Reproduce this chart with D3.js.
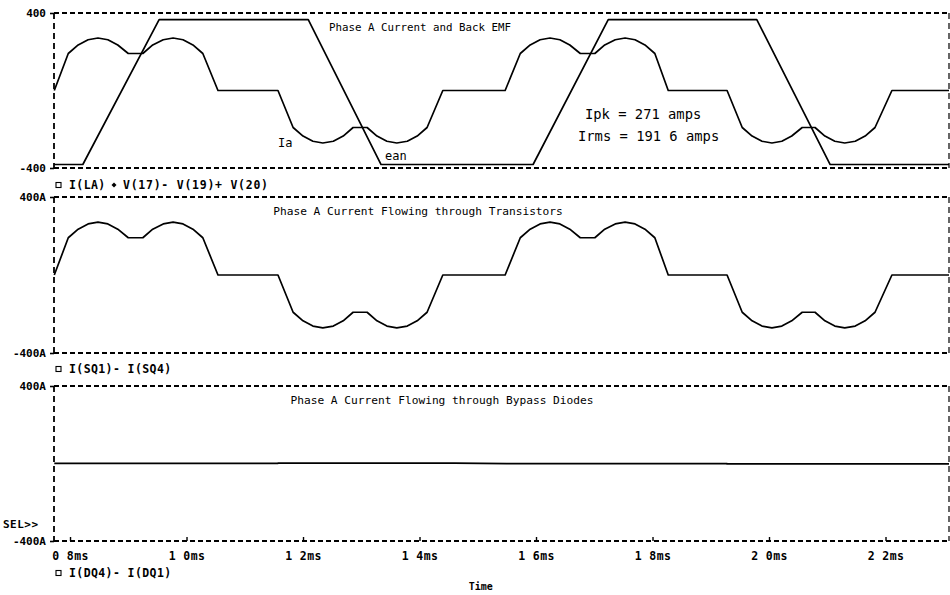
<!DOCTYPE html>
<html>
<head>
<meta charset="utf-8">
<script src="https://cdn.jsdelivr.net/npm/d3@7/dist/d3.min.js"></script>
<style>
  html, body { margin: 0; padding: 0; background: #fff; }
  svg { display: block; }
</style>
</head>
<body>
<svg id="chart" width="950" height="595"></svg>
<script>
// ---- Data -------------------------------------------------------------
// Time axis, milliseconds
const timeDomain = [0.7725, 2.309];
const timeTicks = [0.8, 1.0, 1.2, 1.4, 1.6, 1.8, 2.0, 2.2];
const timeTickLabels = ["0 8ms", "1 0ms", "1 2ms", "1 4ms", "1 6ms", "1 8ms", "2 0ms", "2 2ms"];

// Current / voltage axis limits for every panel
const valueDomain = [-400, 400];
const topTickLabels = ["400", "400A", "400A"];
const bottomTickLabels = ["-400", "-400A", "-400A"];

// Phase A current ia: [time ms, amps]
const phaseCurrent = [
  [0.773, 0], [0.797, 191], [0.814, 235], [0.831, 262], [0.848, 271], [0.865, 262], [0.882, 235], [0.900, 191],
  [0.925, 191], [0.942, 235], [0.960, 262], [0.977, 271], [0.994, 262], [1.011, 235], [1.028, 191], [1.054, 0],
  [1.157, 0], [1.183, -191], [1.200, -235], [1.217, -262], [1.234, -271], [1.252, -262], [1.269, -235], [1.286, -191],
  [1.310, -191], [1.327, -235], [1.344, -262], [1.361, -271], [1.379, -262], [1.396, -235], [1.413, -191], [1.440, 0],
  [1.547, 0], [1.573, 191], [1.590, 235], [1.607, 262], [1.624, 271], [1.641, 262], [1.658, 235], [1.676, 191],
  [1.701, 191], [1.718, 235], [1.736, 262], [1.753, 271], [1.770, 262], [1.787, 235], [1.804, 191], [1.827, 0],
  [1.928, 0], [1.954, -191], [1.971, -235], [1.988, -262], [2.005, -271], [2.022, -262], [2.039, -235], [2.057, -191],
  [2.079, -191], [2.096, -235], [2.113, -262], [2.130, -271], [2.148, -262], [2.165, -235], [2.182, -191], [2.211, 0],
  [2.309, 0]
];

// Phase A back EMF ean: [time ms, volts]
const backEmf = [
  [0.773, -382], [0.822, -382], [0.953, 366], [1.209, 366], [1.334, -382],
  [1.595, -382], [1.724, 366], [1.979, 366], [2.105, -382], [2.309, -382]
];

// The transistors carry the whole phase current
const transistorCurrent = phaseCurrent;

// Bypass diode current, essentially zero: [time ms, amps]
const diodeCurrent = [
  [0.773, 1], [1.157, 1], [1.157, 2], [1.460, 2], [1.550, -1], [1.928, -1], [1.928, -2], [2.309, -2]
];

const panelTitles = [
  "Phase A Current and Back EMF",
  "Phase A Current Flowing through Transistors",
  "Phase A Current Flowing through Bypass Diodes"
];

// ---- Layout -----------------------------------------------------------
const plotLeft = 54, plotRight = 949;
const panels = [
  { top: 13, bottom: 168 },
  { top: 197, bottom: 353 },
  { top: 386, bottom: 541 }
];
const titleCenters = [420, 418, 442];
const titleSizes = [10.8, 11.2, 11.2];

const svg = d3.select("#chart");
const x = d3.scaleLinear().domain(timeDomain).range([plotLeft, plotRight]);

const dash = "5,3";
const frameWidth = 1.8;
const monoFont = '"DejaVu Sans Mono", "Liberation Mono", monospace';

panels.forEach((p, i) => {
  const y = d3.scaleLinear().domain(valueDomain).range([p.bottom, p.top]);
  p.y = y;
  const g = svg.append("g");

  // dashed frame
  const frame = g.append("g")
    .attr("stroke", "#000")
    .attr("stroke-width", frameWidth)
    .attr("stroke-dasharray", dash)
    .attr("fill", "none");
  frame.append("line").attr("x1", plotLeft).attr("x2", plotRight).attr("y1", p.top).attr("y2", p.top);
  frame.append("line").attr("x1", plotLeft).attr("x2", plotRight).attr("y1", p.bottom).attr("y2", p.bottom);
  frame.append("line").attr("x1", plotLeft).attr("x2", plotLeft).attr("y1", p.top).attr("y2", p.bottom)
    .attr("stroke-dasharray", "6,4");
  frame.append("line").attr("x1", plotRight).attr("x2", plotRight).attr("y1", p.top).attr("y2", p.bottom)
    .attr("stroke-dasharray", "6,4").attr("stroke-width", 1.2);

  // y axis end labels
  const yAxis = d3.axisLeft(y)
    .tickValues(valueDomain)
    .tickSize(4)
    .tickPadding(4)
    .tickFormat(d => d > 0 ? topTickLabels[i] : bottomTickLabels[i]);
  const ya = g.append("g").attr("transform", `translate(${plotLeft},0)`).call(yAxis);
  ya.select(".domain").remove();
  ya.selectAll("line").attr("stroke", "#000").attr("stroke-width", 1.6);
  ya.selectAll("text")
    .attr("font-family", monoFont)
    .attr("font-weight", "bold")
    .attr("font-size", 11)
    .attr("fill", "#000");

  // panel title
  g.append("text")
    .attr("x", titleCenters[i])
    .attr("y", p.top + 18)
    .attr("text-anchor", "middle")
    .attr("font-family", monoFont)
    .attr("font-size", titleSizes[i])
    .attr("fill", "#000")
    .text(panelTitles[i]);
});

// ---- Traces -----------------------------------------------------------
function trace(panel, data) {
  const y = panel.y;
  svg.append("path")
    .datum(data)
    .attr("fill", "none")
    .attr("stroke", "#000")
    .attr("stroke-width", 1.7)
    .attr("stroke-linejoin", "round")
    .attr("d", d3.line().x(d => x(d[0])).y(d => y(d[1])));
}
trace(panels[0], phaseCurrent);
trace(panels[0], backEmf);
trace(panels[1], transistorCurrent);
trace(panels[2], diodeCurrent);

// ---- Time axis --------------------------------------------------------
const xAxis = d3.axisBottom(x)
  .tickValues(timeTicks)
  .tickSize(-4)
  .tickPadding(11)
  .tickFormat((d, k) => timeTickLabels[k]);
const xa = svg.append("g").attr("transform", `translate(0,${panels[2].bottom})`).call(xAxis);
xa.select(".domain").remove();
xa.selectAll("line").attr("stroke", "#000").attr("stroke-width", 1.4);
xa.selectAll("text")
  .attr("font-family", monoFont)
  .attr("font-weight", "bold")
  .attr("font-size", 11.5)
  .attr("letter-spacing", 0.4)
  .attr("fill", "#000");

svg.append("text")
  .attr("x", x(1.505)).attr("y", 590)
  .attr("text-anchor", "middle")
  .attr("font-family", monoFont).attr("font-weight", "bold").attr("font-size", 10)
  .text("Time");

// ---- Trace legends ----------------------------------------------------
function legendRow(yc, label, extra) {
  const g = svg.append("g");
  g.append("rect").attr("x", 56).attr("y", yc - 2.5).attr("width", 5).attr("height", 5)
    .attr("fill", "none").attr("stroke", "#000").attr("stroke-width", 1.1);
  g.append("text").attr("x", 69).attr("y", yc + 4)
    .attr("font-family", monoFont).attr("font-weight", "bold").attr("font-size", 11.5)
    .attr("letter-spacing", 0.4)
    .text(label);
  if (extra) {
    g.append("path")
      .attr("d", `M${extra.x},${yc - 2.5} l2.5,2.5 l-2.5,2.5 l-2.5,-2.5 Z`)
      .attr("fill", "#000");
    g.append("text").attr("x", extra.x + 9).attr("y", yc + 4)
      .attr("font-family", monoFont).attr("font-weight", "bold").attr("font-size", 11.5)
      .attr("letter-spacing", 0.75)
      .text(extra.label);
  }
}
legendRow(185, "I(LA)", { x: 114, label: "V(17)- V(19)+ V(20)" });
legendRow(369, "I(SQ1)- I(SQ4)");
legendRow(573, "I(DQ4)- I(DQ1)");

svg.append("text").attr("x", 3).attr("y", 528)
  .attr("font-family", monoFont).attr("font-weight", "bold").attr("font-size", 11)
  .attr("letter-spacing", 0.5)
  .text("SEL>>");

// ---- Annotations in the top panel -------------------------------------
const ann = svg.append("g").attr("font-family", monoFont).attr("font-size", 13.8).attr("fill", "#000");
ann.append("text").attr("x", 585).attr("y", 119).text("Ipk = 271 amps");
ann.append("text").attr("x", 578).attr("y", 141).text("Irms = 191 6 amps");
ann.append("text").attr("x", 278).attr("y", 147).attr("font-size", 12).text("Ia");
ann.append("text").attr("x", 385).attr("y", 160).attr("font-size", 12).text("ean");
</script>
</body>
</html>
